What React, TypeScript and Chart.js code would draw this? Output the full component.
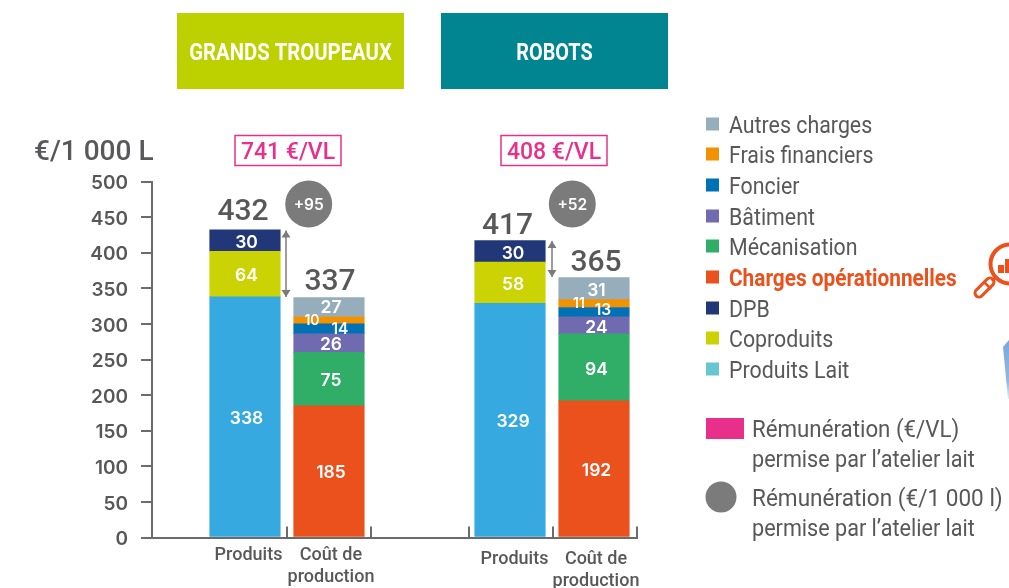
import React, { useEffect, useRef } from "react";
import { Chart, registerables } from "chart.js";

Chart.register(...registerables);

const GREY = "#58585a";
const AXIS = "#6b6b6b";
const PINK = "#e8308a";
const ORANGE = "#ea511c";
const BODY = "Roboto, sans-serif";
const NUM = "Inter, sans-serif";

// x position of each bar on the axis (in bar-slot units)
const barSlots = [1.107, 2.107, 4.262, 5.262];
const xBoundaries = [0, 1.607, 2.607, 3.774, 4.774, 5.774];
const barLabels = [["Produits"], ["Coût de", "production"], ["Produits"], ["Coût de", "production"]];
const barTotals = [432, 337, 417, 365];
const groupTitles = ["GRANDS TROUPEAUX", "ROBOTS"];
const groupRemuneration = ["741 €/VL", "408 €/VL"];
const groupGaps = ["+95", "+52"];
const yTicks = [0, 50, 100, 150, 200, 250, 300, 350, 400, 450, 500];

const produitsLait = [338, null, 329, null];
const coproduits = [64, null, 58, null];
const dpb = [30, null, 30, null];
const chargesOp = [null, 185, null, 192];
const mecanisation = [null, 75, null, 94];
const batiment = [null, 26, null, 24];
const foncier = [null, 14, null, 13];
const fraisFin = [null, 10, null, 11];
const autres = [null, 27, null, 31];

const seriesNames = ["Produits Lait", "Coproduits", "DPB", "Charges opérationnelles", "Mécanisation", "Bâtiment", "Foncier", "Frais financiers", "Autres charges"];
const seriesValues = [produitsLait, coproduits, dpb, chargesOp, mecanisation, batiment, foncier, fraisFin, autres];
const seriesColors = ["#36a9e0", "#cbd305", "#223777", "#ea511c", "#30ad67", "#706bb0", "#0071b5", "#f39200", "#96aebc"];
const legendSwatch = ["#68c5d3", "#cbd305", "#223777", "#ea511c", "#30ad67", "#706bb0", "#0071b5", "#f39200", "#96aebc"];
const legendOrder = [8, 7, 6, 5, 4, 3, 2, 1, 0];
const legendRows = [125, 155, 186, 217, 247, 278, 309, 339, 370];

function text(ctx: CanvasRenderingContext2D, s: string, x: number, y: number, font: string, color: string, align: CanvasTextAlign = "center", sx = 1) {
  ctx.font = font;
  ctx.fillStyle = color;
  ctx.textAlign = align;
  ctx.textBaseline = "middle";
  if (sx === 1) ctx.fillText(s, x, y + 4);
  else ctx.fillText(s, x, y + 4, ctx.measureText(s).width * sx);
}

const decorations = {
  id: "decorations",
  afterDraw(chart: any) {
    const ctx: CanvasRenderingContext2D = chart.ctx;
    const xs = chart.scales.x;
    const ys = chart.scales.y;
    ctx.save();

    // group headers
    const headerColors = ["#bdd000", "#008591"];
    const headerX = [177, 441];
    const headerSx = [0.845, 0.826];
    groupTitles.forEach((t, i) => {
      ctx.fillStyle = headerColors[i];
      ctx.fillRect(headerX[i], 13, 227, 76);
      text(ctx, t, headerX[i] + 113.5, 49.5, `bold 24px ${BODY}`, "#fff", "center", headerSx[i]);
    });

    // y unit
    text(ctx, "€/1 000 L", 153.5, 149, `500 28px ${BODY}`, GREY, "right");

    // y tick labels, from the y scale
    ys.ticks.forEach((t: any) => {
      text(ctx, String(t.value), 128, ys.getPixelForValue(t.value) - 2, `600 19px ${NUM}`, GREY, "right");
    });

    // pink remuneration boxes
    const boxX = [235, 501];
    const boxW = [106, 106];
    groupRemuneration.forEach((t, i) => {
      ctx.strokeStyle = PINK;
      ctx.lineWidth = 1.5;
      ctx.strokeRect(boxX[i], 135.5, boxW[i], 30);
      text(ctx, t, boxX[i] + boxW[i] / 2, 149, `500 23px ${BODY}`, PINK);
    });

    // x axis upward ticks
    ctx.strokeStyle = AXIS;
    ctx.lineWidth = 2;
    xs.ticks.slice(1).forEach((t: any) => {
      const x = xs.getPixelForValue(t.value);
      ctx.beginPath();
      ctx.moveTo(x, ys.bottom);
      ctx.lineTo(x, ys.bottom - 11);
      ctx.stroke();
    });

    // totals
    const totalDx = [-2, 1, -2.5, 2];
    const totalDy = [-21, -19, -18.5, -18.5];
    barTotals.forEach((v, i) => {
      const x = xs.getPixelForValue(barSlots[i]);
      const y = ys.getPixelForValue(v);
      text(ctx, String(v), x + totalDx[i], y + totalDy[i], `500 30px ${BODY}`, GREY);
    });

    // grey circles
    const circleX = [308.7, 572.3];
    const circleY = 204;
    groupGaps.forEach((t, i) => {
      ctx.fillStyle = "#7b7b7b";
      ctx.beginPath();
      ctx.arc(circleX[i], circleY, 23.5, 0, Math.PI * 2);
      ctx.fill();
      text(ctx, t, circleX[i], circleY - 3, `600 15.5px ${NUM}`, "#fff");
    });

    // double arrows between produits and cost
    [[0, 1], [2, 3]].forEach(([a, b], i) => {
      const x = [286, 552][i];
      const y1 = ys.getPixelForValue(barTotals[a]) + 0.5;
      const y2 = ys.getPixelForValue(barTotals[b]) - 0.5;
      ctx.strokeStyle = "#7b7b7b";
      ctx.fillStyle = "#7b7b7b";
      ctx.lineWidth = 1.5;
      ctx.beginPath();
      ctx.moveTo(x, y1);
      ctx.lineTo(x, y2);
      ctx.stroke();
      ctx.beginPath();
      ctx.moveTo(x, y1);
      ctx.lineTo(x - 4.5, y1 + 7);
      ctx.lineTo(x + 4.5, y1 + 7);
      ctx.closePath();
      ctx.moveTo(x, y2);
      ctx.lineTo(x - 4.5, y2 - 7);
      ctx.lineTo(x + 4.5, y2 - 7);
      ctx.closePath();
      ctx.fill();
    });

    // value labels in segments
    const labelDx = [1.5, 2, 3, 2.5];
    chart.data.datasets.forEach((ds: any, di: number) => {
      const meta = chart.getDatasetMeta(di);
      meta.data.forEach((el: any, i: number) => {
        const v = ds.data[i].y;
        if (v == null) return;
        const name = seriesNames[di];
        let dx = labelDx[i];
        let dy = 0;
        let size = 17.5;
        if (name === "Frais financiers") { dx = i === 1 ? -17 : -15; dy = -2; size = 14; }
        if (name === "Foncier") { dx = i === 1 ? 11 : 9; dy = i === 1 ? -1.5 : -3.5; size = 15.5; }
        if (name === "Autres charges" && i === 1) dy = -1;
        text(ctx, String(v), el.x + dx, (el.y + el.base) / 2 + dy - 2, `600 ${size}px ${NUM}`, "#fff");
      });
    });

    // category labels
    const labelY = [551, 551, 555, 555];
    const catDx = [3.5, 2, 4.5, 2];
    barLabels.forEach((lines, i) => {
      const x = xs.getPixelForValue(barSlots[i]);
      lines.forEach((l, k) => {
        text(ctx, l, x + catDx[i], labelY[i] + k * 22, `500 18px ${BODY}`, GREY);
      });
    });

    // legend
    legendOrder.forEach((si, k) => {
      ctx.fillStyle = legendSwatch[si];
      ctx.fillRect(706, legendRows[k] - 7.5, 13, 13);
      const bold = seriesNames[si] === "Charges opérationnelles";
      text(ctx, seriesNames[si], 729, legendRows[k] - 2, `${bold ? "bold " : ""}24px ${BODY}`, bold ? ORANGE : GREY, "left", bold ? 0.867 : 0.89);
    });

    // remuneration legend
    ctx.fillStyle = PINK;
    ctx.fillRect(706, 418, 38, 21);
    text(ctx, "Rémunération (€/VL)", 752, 427, `24px ${BODY}`, GREY, "left", 0.928);
    text(ctx, "permise par l’atelier lait", 752, 457, `24px ${BODY}`, GREY, "left", 0.9);
    ctx.fillStyle = "#7b7b7b";
    ctx.beginPath();
    ctx.arc(721, 497, 15.5, 0, Math.PI * 2);
    ctx.fill();
    text(ctx, "Rémunération (€/1 000 l)", 752, 496, `24px ${BODY}`, GREY, "left", 0.94);
    text(ctx, "permise par l’atelier lait", 752, 526, `24px ${BODY}`, GREY, "left", 0.9);

    // magnifier icon, cut by the right edge
    ctx.strokeStyle = ORANGE;
    ctx.lineWidth = 4;
    ctx.beginPath();
    ctx.arc(1010, 264, 19.5, 0, Math.PI * 2);
    ctx.stroke();
    ctx.fillStyle = ORANGE;
    ctx.fillRect(998, 265, 6, 8);
    ctx.fillRect(1005, 259, 4, 14);
    ctx.lineCap = "round";
    ctx.lineWidth = 11;
    ctx.beginPath();
    ctx.moveTo(979, 293);
    ctx.lineTo(990, 282);
    ctx.stroke();
    ctx.strokeStyle = "#fff";
    ctx.lineWidth = 5;
    ctx.beginPath();
    ctx.moveTo(979, 293);
    ctx.lineTo(990, 282);
    ctx.stroke();
    ctx.strokeStyle = ORANGE;
    ctx.lineWidth = 2.5;
    ctx.lineCap = "butt";
    ctx.beginPath();
    ctx.moveTo(984, 282);
    ctx.lineTo(991, 289);
    ctx.moveTo(992, 281);
    ctx.lineTo(996, 277);
    ctx.stroke();

    // blue wedge at the edge
    const g = ctx.createLinearGradient(1005, 340, 1008, 400);
    g.addColorStop(0, "#7aa6d8");
    g.addColorStop(0.7, "#93b8e0");
    g.addColorStop(1, "#e4eef8");
    ctx.fillStyle = g;
    ctx.beginPath();
    ctx.moveTo(1009, 340);
    ctx.lineTo(1003, 347);
    ctx.lineTo(1008, 399);
    ctx.lineTo(1009, 399);
    ctx.closePath();
    ctx.fill();

    ctx.restore();
  },
};

export default function App() {
  const ref = useRef<HTMLCanvasElement>(null);
  useEffect(() => {
    document.body.style.margin = "0";
    const chart = new Chart(ref.current!, {
      type: "bar",
      data: {
        datasets: seriesNames.map((name, si) => ({
          label: name,
          data: seriesValues[si].map((y, i) => ({ x: barSlots[i], y })),
          backgroundColor: seriesColors[si],
          borderWidth: 0,
          barThickness: 70.5,
        })) as any,
      },
      plugins: [decorations],
      options: {
        animation: false,
        responsive: false,
        layout: { padding: { top: 181.5, left: 0, right: 372, bottom: 50.5 } },
        plugins: { legend: { display: false }, tooltip: { enabled: false }, title: { display: false } },
        scales: {
          x: {
            type: "linear",
            stacked: true,
            offset: false,
            min: 0,
            max: xBoundaries[xBoundaries.length - 1],
            afterBuildTicks: (s: any) => { s.ticks = xBoundaries.map((value) => ({ value })); },
            afterFit: (s: any) => { s.height = 0; },
            ticks: { display: false },
            grid: { display: false, offset: false },
            border: { display: true, color: AXIS, width: 2 },
          },
          y: {
            stacked: true,
            min: 0,
            max: 500,
            afterBuildTicks: (s: any) => { s.ticks = yTicks.map((value) => ({ value })); },
            afterFit: (s: any) => { s.width = 152; },
            ticks: { display: false },
            grid: { drawOnChartArea: false, tickLength: 11, color: AXIS, lineWidth: 2 },
            border: { color: AXIS, width: 2 },
          },
        },
      } as any,
    });
    return () => chart.destroy();
  }, []);
  return <canvas ref={ref} width={1009} height={588} style={{ display: "block" }} />;
}
